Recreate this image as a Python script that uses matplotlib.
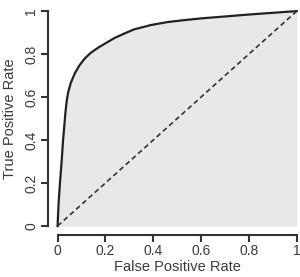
import matplotlib
matplotlib.use("Agg")
import matplotlib.pyplot as plt
import numpy as np

# ROC curve
fpr = [0.0, 0.004, 0.010, 0.017, 0.023, 0.027, 0.033, 0.038, 0.044, 0.055, 0.072, 0.09,
       0.114, 0.14, 0.17, 0.2, 0.24, 0.28, 0.32, 0.39, 0.46, 0.53, 0.6, 0.7, 0.8,
       0.9, 1.0]
tpr = [0.0, 0.1, 0.2, 0.3, 0.4, 0.45, 0.53, 0.58, 0.62, 0.665, 0.71, 0.745,
       0.78, 0.807, 0.83, 0.85, 0.876, 0.896, 0.915, 0.935, 0.949, 0.958, 0.966,
       0.975, 0.984, 0.992, 1.0]
ticks = [0, 0.2, 0.4, 0.6, 0.8, 1]
tick_labels = ["0", "0.2", "0.4", "0.6", "0.8", "1"]

plt.rcParams['font.family'] = ['Liberation Sans', 'DejaVu Sans']

fig = plt.figure(figsize=(3.0, 2.77), dpi=100)
ax = fig.add_axes([0.160, 0.153, 0.861, 0.838])

ax.fill_between(fpr, tpr, 0, color="#e8e8e8", lw=0)
ax.plot(fpr, tpr, color="#222222", lw=1.6, solid_joinstyle="round")
ax.plot([0, 1], [0, 1], color="#333333", lw=1.2, ls=(0, (3, 2)))

ax.set_xlim(-0.04, 1.04)
ax.set_ylim(-0.04, 1.04)

for s in ["top", "right"]:
    ax.spines[s].set_visible(False)
for s in ["left", "bottom"]:
    ax.spines[s].set_linewidth(1.5)
    ax.spines[s].set_color("#333333")
    ax.spines[s].set_bounds(0, 1)

ax.set_xticks(ticks)
ax.set_xticklabels(tick_labels)
ax.set_yticks(ticks)
ax.set_yticklabels(tick_labels, rotation=90, va="center")
ax.tick_params(axis="both", length=5, width=1.5, color="#333333",
               labelsize=10, labelcolor="#3a3a3a", pad=2)

ax.set_xlabel("False Positive Rate", fontsize=10.5, color="#3a3a3a", labelpad=1)
ax.set_ylabel("True Positive Rate", fontsize=10.5, color="#3a3a3a", labelpad=5)

fig.savefig("out.png", dpi=100)
